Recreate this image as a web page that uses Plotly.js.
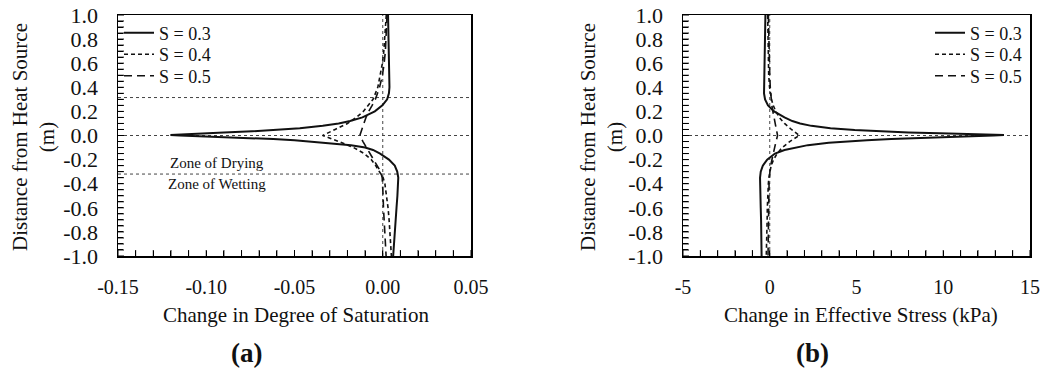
<!DOCTYPE html>
<html>
<head>
<meta charset="utf-8">
<script src="https://cdn.plot.ly/plotly-3.0.1.min.js"></script>
<style>
  html, body { margin: 0; padding: 0; background: #fff; }
  #chart { width: 1046px; height: 370px; }
</style>
</head>
<body>
<div id="chart"></div>
<script>
// ---------- DATA ----------
const seriesNames = ["S = 0.3", "S = 0.4", "S = 0.5"];

// dense depth grid for the S = 0.3 curves (m)
const ySolid = [1.0, 0.9, 0.8, 0.7, 0.6, 0.5, 0.4, 0.35, 0.3, 0.25, 0.2, 0.15, 0.12, 0.1, 0.08, 0.06, 0.045, 0.035, 0.025, 0.018, 0.012, 0.005, 0.0, -0.005, -0.01, -0.02, -0.03, -0.04, -0.06, -0.08, -0.1, -0.12, -0.15, -0.2, -0.25, -0.3, -0.35, -0.4, -0.5, -0.6, -0.7, -0.8, -0.9, -1.0];
// depth grid for the S = 0.4 and S = 0.5 curves (m)
const yDash = [1.0, 0.9, 0.8, 0.7, 0.6, 0.5, 0.4, 0.3, 0.25, 0.2, 0.15, 0.1, 0.05, 0.0, -0.05, -0.1, -0.15, -0.2, -0.25, -0.3, -0.35, -0.4, -0.5, -0.6, -0.7, -0.8, -0.9, -1.0];

// (a) change in degree of saturation
const satS03 = [0.0030, 0.0032, 0.0034, 0.0035, 0.0036, 0.0037, 0.0038, 0.0035, 0.0025, -0.0002, -0.0045, -0.0115, -0.0185, -0.0250, -0.0340, -0.0470, -0.0610, -0.0740, -0.0900, -0.1030, -0.1130, -0.1203, -0.1150, -0.1050, -0.0940, -0.0760, -0.0620, -0.0500, -0.0320, -0.0180, -0.0100, -0.0055, -0.0015, 0.0035, 0.0068, 0.0082, 0.0088, 0.0087, 0.0083, 0.0078, 0.0073, 0.0068, 0.0063, 0.0059];
const satS04 = [0.0020, 0.0016, 0.0012, 0.0006, -0.0002, -0.0014, -0.0028, -0.0055, -0.0080, -0.0110, -0.0150, -0.0200, -0.0270, -0.0340, -0.0250, -0.0165, -0.0105, -0.0065, -0.0040, -0.0018, 0.0002, 0.0012, 0.0022, 0.0030, 0.0036, 0.0041, 0.0045, 0.0049];
const satS05 = [0.0024, 0.0022, 0.0019, 0.0015, 0.0008, -0.0002, -0.0018, -0.0042, -0.0060, -0.0080, -0.0095, -0.0108, -0.0120, -0.0130, -0.0112, -0.0092, -0.0072, -0.0050, -0.0030, -0.0012, -0.0003, 0.0000, 0.0002, 0.0004, 0.0007, 0.0011, 0.0015, 0.0019];

// (b) change in effective stress (kPa)
const stressS03 = [-0.25, -0.26, -0.27, -0.28, -0.29, -0.31, -0.34, -0.33, -0.27, -0.10, 0.25, 0.85, 1.30, 1.75, 2.40, 3.50, 4.90, 6.20, 8.00, 9.80, 11.60, 13.50, 12.90, 11.80, 10.60, 8.60, 7.00, 5.60, 3.40, 2.20, 1.40, 0.85, 0.30, -0.15, -0.40, -0.52, -0.56, -0.56, -0.54, -0.52, -0.50, -0.49, -0.48, -0.47];
const stressS04 = [-0.12, -0.11, -0.10, -0.09, -0.08, -0.06, -0.01, 0.10, 0.20, 0.35, 0.55, 0.85, 1.25, 1.70, 1.15, 0.72, 0.42, 0.22, 0.08, 0.00, -0.05, -0.08, -0.12, -0.14, -0.15, -0.17, -0.18, -0.20];
const stressS05 = [-0.08, -0.07, -0.05, -0.04, -0.02, 0.00, 0.03, 0.08, 0.12, 0.18, 0.24, 0.30, 0.37, 0.45, 0.36, 0.28, 0.19, 0.11, 0.05, 0.01, -0.02, -0.04, -0.05, -0.06, -0.07, -0.08, -0.09, -0.10];

// axis ranges
const xRangeA = [-0.15, 0.05];
const xRangeB = [-5, 15];
const yRange = [-1, 1];

// zone boundaries (m) in panel (a), and the zero reference
const zoneBounds = [0.315, -0.32];
const zeroRef = 0;

// labelled ticks
const yTickVals = [1.0, 0.8, 0.6, 0.4, 0.2, 0.0, -0.2, -0.4, -0.6, -0.8, -1.0];
const yTickText = ["1.0", "0.8", "0.6", "0.4", "0.2", "0.0", "-0.2", "-0.4", "-0.6", "-0.8", "-1.0"];
const xaTickVals = [-0.15, -0.10, -0.05, 0.00, 0.05];
const xaTickText = ["-0.15", "-0.10", "-0.05", "0.00", "0.05"];
const xbTickVals = [-5, 0, 5, 10, 15];
const xbTickText = ["-5", "0", "5", "10", "15"];
const yTickStep = 0.05, xaTickStep = 0.01, xbTickStep = 1;

// text
const xTitleA = "Change in Degree of Saturation";
const xTitleB = "Change in Effective Stress (kPa)";
const yTitle = "Distance from Heat Source<br>(m)";
const panelLabels = ["(a)", "(b)"];
const zoneLabels = ["Zone of Drying", "Zone of Wetting"];

// ---------- LAYOUT CONSTANTS ----------
const FONT = "Liberation Serif";
const INK = "#111";
const W = 1046, H = 370;
const px = v => v / W;
const py = v => (H - v) / H;
const plotA = [118, 471], plotB = [683, 1030], plotY = [15, 256];
const TICKLEN = 5;

function tickArrays(lo, hi, step, labVals, labText) {
  const vals = [], text = [];
  const n = Math.round((hi - lo) / step);
  for (let k = 0; k <= n; k++) {
    const v = +(lo + k * step).toFixed(6);
    vals.push(v);
    const j = labVals.findIndex(t => Math.abs(t - v) < step / 10);
    text.push(j >= 0 ? labText[j] : "");
  }
  return {vals, text};
}
const tA = tickArrays(xRangeA[0], xRangeA[1], xaTickStep, xaTickVals, xaTickText);
const tB = tickArrays(xRangeB[0], xRangeB[1], xbTickStep, xbTickVals, xbTickText);
const tY = tickArrays(yRange[0], yRange[1], yTickStep, yTickVals, yTickText);

// ---------- TRACES ----------
const lineStyles = [
  {color: INK, width: 2, dash: "solid"},
  {color: INK, width: 1.6, dash: "4px,3px"},
  {color: INK, width: 1.6, dash: "8px,5px"}
];
const dotted = {color: "#444", width: 1, dash: "dot"};
const legendIds = ["legend", "legend2", "legend3", "legend4", "legend5", "legend6"];
const traces = [];

// dotted reference lines (drawn first, under the curves)
zoneBounds.concat([zeroRef]).forEach(v => traces.push({x: xRangeA, y: [v, v], type: "scatter", mode: "lines", line: dotted, xaxis: "x", yaxis: "y", showlegend: false, hoverinfo: "skip"}));
traces.push({x: [zeroRef, zeroRef], y: yRange, type: "scatter", mode: "lines", line: dotted, xaxis: "x", yaxis: "y", showlegend: false, hoverinfo: "skip"});
traces.push({x: xRangeB, y: [zeroRef, zeroRef], type: "scatter", mode: "lines", line: dotted, xaxis: "x2", yaxis: "y2", showlegend: false, hoverinfo: "skip"});
traces.push({x: [zeroRef, zeroRef], y: yRange, type: "scatter", mode: "lines", line: dotted, xaxis: "x2", yaxis: "y2", showlegend: false, hoverinfo: "skip"});

// inward tick marks (backup, placed exactly where the axis ticks belong)
function tickMarks(xa, ya, vals, along, xr, pxLen, symbol) {
  const off = (xr[1] - xr[0]) * (TICKLEN / 2) / pxLen;
  const base = xr[0] + off;
  const pos = vals.map(() => base);
  return {
    x: along === "y" ? pos : vals, y: along === "y" ? vals : pos,
    type: "scatter", mode: "markers", xaxis: xa, yaxis: ya, showlegend: false, hoverinfo: "skip", cliponaxis: false,
    marker: {symbol: symbol, size: TICKLEN, color: "#000", line: {width: 1, color: "#000"}}
  };
}
traces.push(tickMarks("x", "y", tY.vals, "y", xRangeA, plotA[1] - plotA[0], "line-ew"));
traces.push(tickMarks("x2", "y2", tY.vals, "y", xRangeB, plotB[1] - plotB[0], "line-ew"));
traces.push(tickMarks("x", "y", tA.vals, "x", yRange, plotY[1] - plotY[0], "line-ns"));
traces.push(tickMarks("x2", "y2", tB.vals, "x", yRange, plotY[1] - plotY[0], "line-ns"));

// data curves
const satSets = [[ySolid, satS03], [yDash, satS04], [yDash, satS05]];
const stressSets = [[ySolid, stressS03], [yDash, stressS04], [yDash, stressS05]];
satSets.forEach((s, i) => traces.push({
  x: s[1], y: s[0], type: "scatter", mode: "lines", name: seriesNames[i],
  line: Object.assign({}, lineStyles[i]), xaxis: "x", yaxis: "y", legend: legendIds[i], hoverinfo: "skip"
}));
stressSets.forEach((s, i) => traces.push({
  x: s[1], y: s[0], type: "scatter", mode: "lines", name: seriesNames[i],
  line: Object.assign({}, lineStyles[i]), xaxis: "x2", yaxis: "y2", legend: legendIds[3 + i], hoverinfo: "skip"
}));

// ---------- AXES ----------
const axisBase = {
  showgrid: false, zeroline: false, showline: true, linecolor: "#000", linewidth: 1.5, mirror: true,
  ticks: "inside", ticklen: TICKLEN, tickwidth: 1, tickcolor: "#000", tickmode: "array", layer: "above traces"
};
const xf = {family: FONT, size: 20, color: INK};
const yf = {family: FONT, size: 22, color: INK};

const annFont = {family: FONT, size: 21, color: INK};
const bold = {family: FONT, size: 27, color: INK};
const small = {family: FONT, size: 15, color: INK};
const annotations = [
  {text: yTitle, textangle: -90, xref: "paper", yref: "paper", x: px(33), y: py(137), showarrow: false, font: annFont, xanchor: "center", yanchor: "middle"},
  {text: yTitle, textangle: -90, xref: "paper", yref: "paper", x: px(601), y: py(137), showarrow: false, font: annFont, xanchor: "center", yanchor: "middle"},
  {text: xTitleA, xref: "paper", yref: "paper", x: px(296), y: py(315), showarrow: false, font: annFont, xanchor: "center", yanchor: "middle"},
  {text: xTitleB, xref: "paper", yref: "paper", x: px(861), y: py(315), showarrow: false, font: annFont, xanchor: "center", yanchor: "middle"},
  {text: "<b>" + panelLabels[0] + "</b>", xref: "paper", yref: "paper", x: px(246), y: py(353), showarrow: false, font: bold, xanchor: "center", yanchor: "middle"},
  {text: "<b>" + panelLabels[1] + "</b>", xref: "paper", yref: "paper", x: px(812), y: py(353), showarrow: false, font: bold, xanchor: "center", yanchor: "middle"},
  {text: zoneLabels[0], xref: "x", yref: "y", x: -0.0939, y: -0.228, showarrow: false, font: small, xanchor: "center", yanchor: "middle"},
  {text: zoneLabels[1], xref: "x", yref: "y", x: -0.0939, y: -0.402, showarrow: false, font: small, xanchor: "center", yanchor: "middle"}
];

const layout = {
  width: W, height: H, margin: {l: 0, r: 0, t: 0, b: 0},
  font: {family: FONT, color: INK}, showlegend: true,
  xaxis: Object.assign({}, axisBase, {domain: [px(plotA[0]), px(plotA[1])], range: xRangeA, anchor: "y", tickvals: tA.vals, ticktext: tA.text, ticklabelstandoff: 12, tickfont: xf}),
  yaxis: Object.assign({}, axisBase, {domain: [py(plotY[1]), py(plotY[0])], range: yRange, anchor: "x", tickvals: tY.vals, ticktext: tY.text, ticklabelstandoff: 14, tickfont: yf}),
  xaxis2: Object.assign({}, axisBase, {domain: [px(plotB[0]), px(plotB[1])], range: xRangeB, anchor: "y2", tickvals: tB.vals, ticktext: tB.text, ticklabelstandoff: 12, tickfont: xf}),
  yaxis2: Object.assign({}, axisBase, {domain: [py(plotY[1]), py(plotY[0])], range: yRange, anchor: "x2", tickvals: tY.vals, ticktext: tY.text, ticklabelstandoff: 14, tickfont: yf}),
  annotations: annotations
};
const legendBase = {
  font: {family: FONT, size: 18, color: INK}, bgcolor: "rgba(0,0,0,0)", borderwidth: 0,
  xanchor: "left", yanchor: "middle", tracegroupgap: 0, itemclick: false
};
const legendRowsY = [33, 54.5, 76];
legendIds.forEach((id, k) => {
  layout[id] = Object.assign({}, legendBase, {x: px(k < 3 ? 119 : 930), y: py(legendRowsY[k % 3])});
});

Plotly.newPlot("chart", traces, layout, {staticPlot: true, displayModeBar: false});
</script>
</body>
</html>
